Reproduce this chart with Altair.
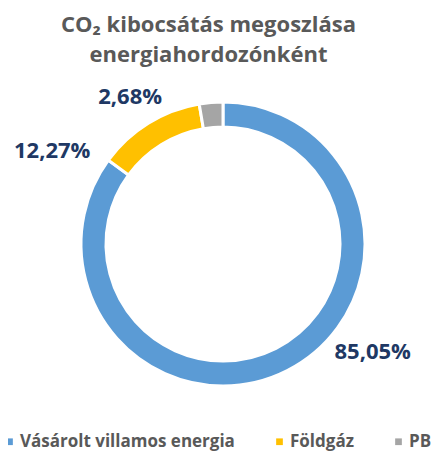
import altair as alt
import pandas as pd

categories = ["Vásárolt villamos energia", "Földgáz", "PB"]
shares = [85.05, 12.27, 2.68]
colors = ["#5B9BD5", "#FFC000", "#A5A5A5"]
title_lines = ["CO₂ kibocsátás megoszlása", "energiahordozónként"]

df = pd.DataFrame({"cat": categories, "share": shares, "idx": list(range(len(categories)))})
df["label"] = [f"{v:.2f}".replace(".", ",") + "%" for v in shares]

FONT = "Open Sans"
CX, CY = 215, 166
theta_scale = alt.Scale(domain=[0, 100], range=[0, 6.283185307])

base = alt.Chart(df)

arc = base.mark_arc(outerRadius=142, innerRadius=117, stroke="white", strokeWidth=3).encode(
    theta=alt.Theta("share:Q", stack=True, scale=theta_scale),
    order=alt.Order("idx:O"),
    color=alt.Color(
        "cat:N",
        scale=alt.Scale(domain=categories, range=colors),
        sort=categories,
        legend=alt.Legend(
            title=None, orient="none", legendX=-7, legendY=355, direction="horizontal",
            columns=3, symbolType="square", symbolSize=45, symbolStrokeWidth=0,
            labelFont=FONT, labelFontSize=17, labelFontWeight="bold", labelColor="#595959",
            columnPadding=36, labelOffset=2, labelLimit=300,
        ),
    ),
    x=alt.value(CX), y=alt.value(CY),
)

offsets = {"Vásárolt villamos energia": (75, -39), "Földgáz": (-84, 47), "PB": (-79, 17)}

labels = []
for cat in categories:
    dx, dy = offsets[cat]
    labels.append(
        base.transform_stack(stack="share", groupby=[], as_=["s0", "s1"], sort=[alt.SortField("idx")])
        .transform_calculate(mid="(datum.s0 + datum.s1) / 2")
        .transform_filter(alt.datum.cat == cat)
        .mark_text(radius=165, dx=dx, dy=dy, font=FONT, fontSize=22, fontWeight="bold", color="#203864")
        .encode(
            theta=alt.Theta("mid:Q", stack=None, scale=theta_scale),
            text="label:N",
            x=alt.value(CX), y=alt.value(CY),
        )
    )

chart = alt.layer(arc, *labels).properties(
    width=427, height=375,
    autosize=alt.AutoSizeParams(type="none"),
    padding={"left": 0, "top": 70, "right": 0, "bottom": 0},
    title=alt.TitleParams(
        text=title_lines, font=FONT, fontSize=22, fontWeight="bold", color="#595959",
        anchor="middle", lineHeight=30, offset=11, dx=-13,
    ),
).configure_view(stroke=None)

chart.save("out.html", embed_options={"renderer": "svg", "actions": False})
